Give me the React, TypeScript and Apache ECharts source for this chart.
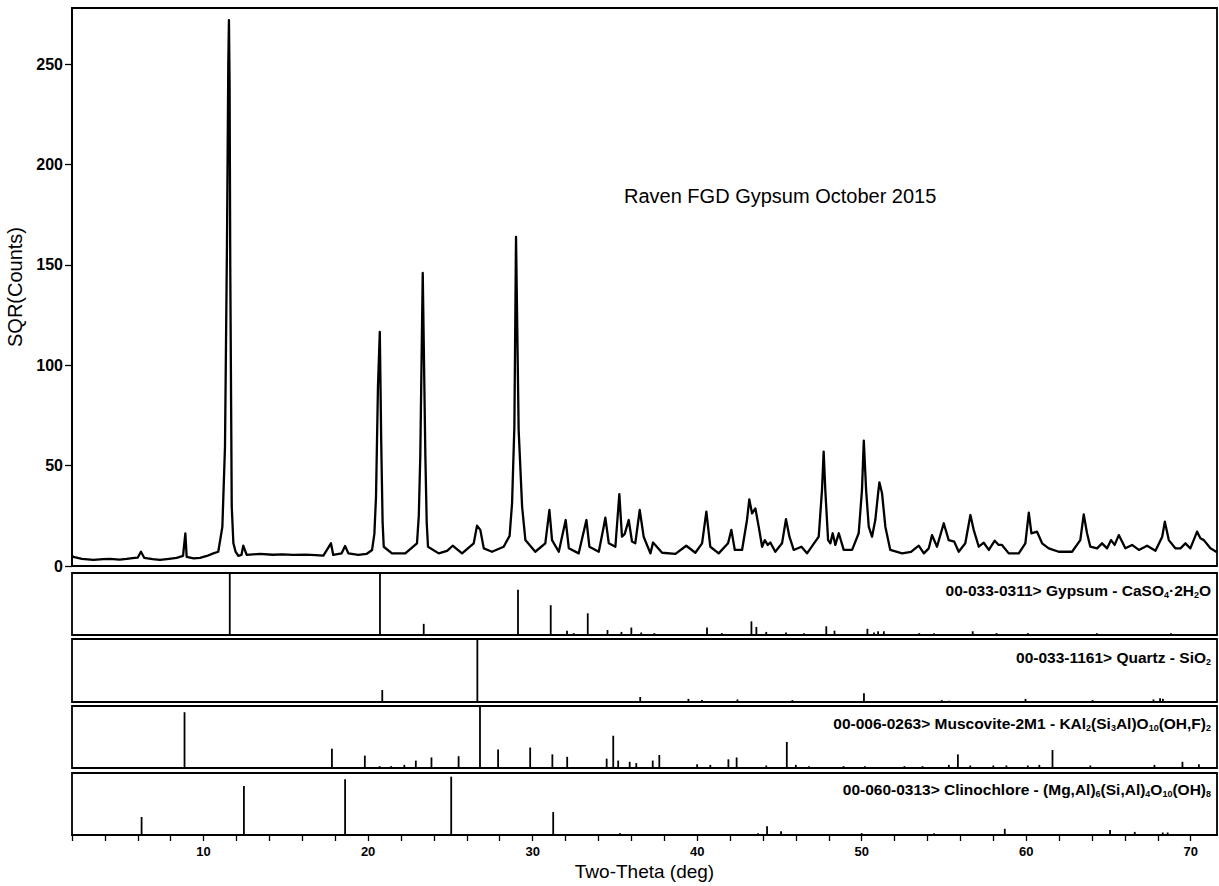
import React, { useEffect, useRef } from "react";
import * as echarts from "echarts";

// ---- axis ranges (2-theta degrees, sqrt counts) ----
const thetaMin = 2;
const thetaMax = 71.6;
const countMax = 278;
const countTicks = [0, 50, 100, 150, 200, 250];
const thetaLabels = [10, 20, 30, 40, 50, 60, 70];

const scanTheta = [
  2.0, 2.08, 2.6, 3.3, 3.9, 4.3, 4.9, 5.32, 5.8, 6.0, 6.19, 6.4, 6.9, 7.35, 7.9, 8.36, 8.75, 8.89, 8.97, 9.4, 9.78, 10.2, 10.59, 10.89,
  11.14, 11.3, 11.42, 11.5, 11.54, 11.58, 11.62, 11.71, 11.81, 11.95, 12.11, 12.3, 12.41, 12.62, 13.0, 13.43,
  14.2, 14.8, 15.45, 16.2, 16.8, 17.28, 17.74, 17.88, 18.39, 18.6, 18.8, 19.41, 19.9, 20.24, 20.38, 20.48, 20.6, 20.71, 20.8, 20.88, 20.95,
  21.45, 22.26, 22.97, 23.08, 23.17, 23.32, 23.48, 23.56, 23.64, 24.29, 24.8, 25.14, 25.71, 26.42, 26.62, 26.82,
  27.03, 27.53, 28.24, 28.6, 28.75, 28.89, 28.99, 29.15, 29.36, 29.56, 30.16, 30.77, 31.02, 31.18,
  31.59, 32.01, 32.2, 32.8, 33.27, 33.45, 34.02, 34.32, 34.42, 34.63, 35.03, 35.27, 35.43,
  35.6, 35.84, 36.04, 36.24, 36.51, 36.75, 37.16, 37.32, 37.87, 38.68, 39.34, 39.89, 40.3,
  40.56, 40.8, 41.31, 41.88, 42.08, 42.29, 42.73, 43.03, 43.17, 43.34, 43.54, 43.74, 43.95,
  44.11, 44.29, 44.45, 44.75, 45.16, 45.4, 45.61, 45.87, 46.34, 46.68, 47.39, 47.59, 47.69,
  47.79, 47.96, 48.1, 48.24, 48.4, 48.61, 48.91, 49.42, 49.82, 50.02, 50.13, 50.27, 50.43,
  50.63, 50.83, 51.0, 51.08, 51.24, 51.44, 51.74, 52.46, 53.0, 53.47, 53.78, 54.08, 54.28, 54.58,
  54.99, 55.29, 55.63, 55.9, 56.3, 56.61, 56.81, 57.12, 57.42, 57.73, 58.09, 58.33, 58.53,
  58.94, 59.55, 59.95, 60.16, 60.32, 60.66, 60.97, 61.37, 61.98, 62.79, 63.29, 63.5, 63.7,
  63.9, 64.31, 64.61, 64.92, 65.16, 65.38, 65.63, 66.03, 66.44, 66.85, 67.35, 67.86, 68.27,
  68.43, 68.67, 69.07, 69.38, 69.68, 69.98, 70.39, 70.59, 70.8, 71.2, 71.6,
];
const scanCounts = [
  5.2, 4.6, 3.6, 3.0, 3.4, 3.6, 3.2, 3.5, 4.0, 4.2, 7.1, 4.0, 3.4, 3.0, 3.6, 4.0, 5.0, 16.3, 4.6, 3.8, 4.0, 5.0, 6.3, 7.1,
  19.5, 59.5, 160, 250, 272, 240, 150, 29.6, 11.3, 7.0, 5.1, 5.5, 10.1, 5.5, 5.8, 6.0,
  5.6, 5.8, 5.5, 5.7, 5.4, 5.2, 11.3, 5.5, 6.3, 10.0, 6.3, 5.5, 6.0, 8.0, 16.0, 34.6, 90, 116.6, 60, 22.0, 9.6,
  6.3, 6.3, 11.3, 25.0, 54.5, 146, 54.5, 22.0, 9.6, 6.3, 7.5, 10.1, 6.3, 11.3, 20.1, 18.0,
  8.8, 7.1, 9.6, 15.0, 31.3, 69.5, 164, 67.9, 29.6, 12.9, 7.1, 11.3, 27.9, 12.9,
  7.1, 22.9, 8.8, 6.3, 22.9, 9.6, 7.1, 19.6, 24.1, 11.3, 9.6, 35.8, 14.6,
  16.0, 22.9, 12.2, 11.3, 27.9, 14.6, 6.3, 11.7, 6.6, 6.0, 10.1, 6.6, 11.3,
  27.1, 9.6, 6.3, 11.3, 18.0, 8.0, 8.0, 22.9, 33.2, 26.2, 28.7, 19.6, 9.6,
  12.9, 10.5, 11.7, 7.1, 11.3, 23.3, 14.6, 8.0, 9.6, 6.3, 14.6, 37.9, 57.0,
  37.9, 12.9, 11.3, 16.3, 10.5, 16.3, 8.0, 8.0, 16.3, 37.9, 62.5, 37.9, 19.6,
  14.6, 22.9, 36.2, 41.6, 36.2, 19.6, 8.0, 6.3, 7.0, 10.1, 6.3, 8.8, 15.4, 9.6,
  21.3, 12.9, 12.1, 7.1, 11.3, 25.4, 18.0, 9.6, 11.6, 8.0, 12.6, 10.5, 10.5,
  6.3, 6.3, 11.3, 26.6, 16.3, 17.1, 11.3, 8.8, 7.1, 7.1, 12.9, 25.7, 16.3,
  9.6, 8.8, 11.3, 8.8, 12.9, 10.5, 15.4, 8.8, 10.5, 8.0, 10.1, 7.6, 14.6,
  22.1, 12.9, 8.8, 8.8, 11.3, 8.8, 17.1, 13.8, 12.9, 8.8, 6.8,
];

// ---- reference patterns (2-theta, relative intensity %) ----
const gypsumTheta = [11.59, 20.72, 23.38, 29.11, 31.1, 32.09, 32.5, 33.35, 34.55, 35.4, 36.0, 36.6, 37.4, 40.6, 41.5, 43.3, 43.6, 44.2, 45.4, 46.5, 47.85, 48.35, 50.35, 50.75, 51.0, 51.35, 53.5, 54.4, 56.75, 58.2, 60.1, 64.3, 68.8];
const gypsumIntensity = [100, 100, 18, 73, 48, 7, 3, 35, 8, 5, 12, 4, 3, 12, 3, 22, 13, 5, 4, 3, 14, 7, 10, 4, 6, 6, 3, 3, 6, 3, 3, 3, 3];

const quartzTheta = [20.86, 26.64, 36.54, 39.47, 40.29, 42.45, 45.79, 50.14, 54.87, 55.33, 59.96, 64.04, 67.74, 68.14, 68.31];
const quartzIntensity = [19, 100, 8, 5, 3, 4, 3, 14, 3, 2, 5, 3, 4, 6, 5];

const muscoviteTheta = [8.84, 17.8, 19.8, 20.7, 21.4, 22.2, 22.9, 23.85, 25.5, 26.8, 27.9, 29.85, 31.2, 32.1, 34.5, 34.9, 35.2, 35.9, 36.3, 37.3, 37.7, 40.0, 40.8, 41.9, 42.4, 44.2, 45.45, 46.0, 46.8, 48.9, 50.2, 52.6, 53.7, 55.3, 55.85, 56.6, 58.0, 58.8, 60.1, 60.8, 61.6, 63.9, 67.8, 69.5, 70.5];
const muscoviteIntensity = [90, 31, 20, 3, 3, 5, 12, 17, 19, 100, 30, 33, 22, 18, 15, 52, 12, 10, 8, 12, 21, 6, 5, 14, 17, 4, 42, 5, 3, 3, 3, 3, 3, 5, 22, 4, 4, 4, 4, 5, 29, 4, 5, 10, 6];

const clinochloreTheta = [6.23, 12.45, 18.6, 25.05, 31.25, 35.3, 43.7, 44.25, 45.1, 50.0, 54.4, 58.7, 65.1, 66.6, 68.3, 68.6];
const clinochloreIntensity = [29, 79, 90, 94, 37, 3, 3, 14, 6, 3, 3, 10, 8, 5, 4, 4];

const chartTitle = "Raven FGD Gypsum October 2015";
const yName = "SQR(Counts)";
const xName = "Two-Theta (deg)";
// {s|...} marks a subscript
const phaseLabels = [
  "00-033-0311> Gypsum - CaSO{s|4}·2H{s|2}O",
  "00-033-1161> Quartz - SiO{s|2}",
  "00-006-0263> Muscovite-2M1 - KAl{s|2}(Si{s|3}Al)O{s|10}(OH,F){s|2}",
  "00-060-0313> Clinochlore - (Mg,Al){s|6}(Si,Al){s|4}O{s|10}(OH){s|8}",
];

const FONT = "'Liberation Sans', Arial, sans-serif";

function zip(a: number[], b: number[]) {
  return a.map((v, i) => [v, b[i]]);
}

export default function App() {
  const ref = useRef<HTMLDivElement>(null);

  useEffect(() => {
    if (!ref.current) return;
    const chart = echarts.init(ref.current, undefined, { renderer: "svg" });

    const left = 72;
    const right = 2;
    const panels = [
      { top: 573, height: 62 },
      { top: 639, height: 63 },
      { top: 706, height: 62 },
      { top: 773, height: 62 },
    ];
    const frame = {
      show: true,
      borderColor: "#000",
      borderWidth: 1.8,
      backgroundColor: "transparent",
      containLabel: false,
      outerBoundsMode: "none",
    };
    const grids: any[] = [
      { left, right, top: 8, height: 558, ...frame },
      ...panels.map((p) => ({ left, right, top: p.top, height: p.height, ...frame })),
    ];

    const xAxes: any[] = grids.map((_, i) => {
      const last = i === grids.length - 1;
      return {
        type: "value",
        gridIndex: i,
        min: thetaMin,
        max: thetaMax,
        interval: 2,
        splitLine: { show: false },
        axisLine: { show: last, lineStyle: { color: "#000", width: 1.8 } },
        axisTick: { show: last, length: 6, lineStyle: { color: "#000", width: 1.3 } },
        axisLabel: last
          ? {
              show: true,
              margin: 10,
              fontFamily: FONT,
              fontSize: 13,
              fontWeight: "bold",
              color: "#000",
              showMaxLabel: false,
              formatter: (v: number) => (thetaLabels.includes(Math.round(v * 100) / 100) ? String(v) : ""),
            }
          : { show: false },
        name: last ? xName : "",
        nameLocation: "middle",
        nameGap: 27,
        nameTextStyle: { fontFamily: FONT, fontSize: 19, color: "#000" },
      };
    });

    const yAxes: any[] = [
      {
        type: "value",
        gridIndex: 0,
        min: 0,
        max: countMax,
        interval: 50,
        splitLine: { show: false },
        axisLine: { show: true, lineStyle: { color: "#000", width: 1.8 } },
        axisTick: { show: true, length: 7, lineStyle: { color: "#000", width: 1.3 } },
        axisLabel: {
          margin: 9,
          fontFamily: FONT,
          fontSize: 16,
          fontWeight: "bold",
          color: "#000",
          showMaxLabel: false,
          formatter: (v: number) => (countTicks.includes(v) ? String(v) : ""),
        },
        name: yName,
        nameLocation: "middle",
        nameGap: 37,
        nameTextStyle: { fontFamily: FONT, fontSize: 20, color: "#000" },
      },
      ...panels.map((_, i) => ({
        type: "value",
        gridIndex: i + 1,
        min: 0,
        max: 100,
        show: false,
        splitLine: { show: false },
      })),
    ];

    const stickRender = (params: any, api: any) => {
      const x = api.value(0);
      const v = api.value(1);
      const p0 = api.coord([x, 0]);
      const p1 = api.coord([x, v]);
      return {
        type: "line",
        shape: { x1: p0[0], y1: p0[1], x2: p1[0], y2: p1[1] },
        style: { stroke: "#000", lineWidth: 1.8 },
      };
    };

    const stickSets = [
      zip(gypsumTheta, gypsumIntensity),
      zip(quartzTheta, quartzIntensity),
      zip(muscoviteTheta, muscoviteIntensity),
      zip(clinochloreTheta, clinochloreIntensity),
    ];

    const series: any[] = [
      {
        type: "line",
        xAxisIndex: 0,
        yAxisIndex: 0,
        data: zip(scanTheta, scanCounts),
        showSymbol: false,
        symbol: "none",
        lineStyle: { color: "#000", width: 2.3, join: "round" },
        itemStyle: { color: "#000" },
        clip: true,
      },
      ...stickSets.map((d, i) => ({
        type: "custom",
        xAxisIndex: i + 1,
        yAxisIndex: i + 1,
        data: d,
        renderItem: stickRender,
        encode: { x: 0, y: 1 },
      })),
    ];

    const labelY = [590, 657, 723, 789];
    const graphic: any[] = [
      {
        type: "text",
        x: 624,
        y: 196,
        style: { text: chartTitle, fontFamily: FONT, fontSize: 20, fill: "#000", align: "left", verticalAlign: "middle" },
      },
      ...phaseLabels.map((t, i) => ({
        type: "text",
        x: 1211,
        y: labelY[i],
        style: {
          text: t,
          fontFamily: FONT,
          fontSize: 15.5,
          fontWeight: "bold",
          lineHeight: 18,
          fill: "#000",
          align: "right",
          verticalAlign: "middle",
          rich: {
            s: { fontFamily: FONT, fontSize: 9, fontWeight: "bold", fill: "#000", lineHeight: 9, verticalAlign: "bottom" },
          },
        },
      })),
    ];

    chart.setOption({
      animation: false,
      backgroundColor: "#fff",
      grid: grids,
      xAxis: xAxes,
      yAxis: yAxes,
      series,
      graphic,
    });

    return () => chart.dispose();
  }, []);

  return (
    <div
      ref={ref}
      style={{ position: "fixed", left: 0, top: 0, width: 1219, height: 886, background: "#fff" }}
    />
  );
}
